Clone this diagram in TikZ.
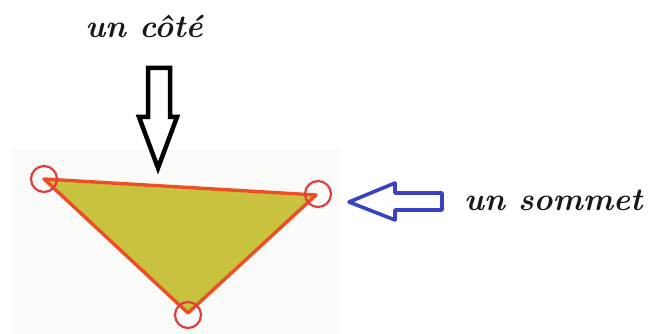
\documentclass[tikz,border=0pt]{standalone}
\usepackage{fontspec}
\definecolor{trifill}{RGB}{200,194,62}
\definecolor{triedge}{RGB}{238,78,36}
\definecolor{vtxred}{RGB}{224,62,62}
\definecolor{arrblue}{RGB}{58,66,196}
\definecolor{panel}{RGB}{250,250,248}
\tikzset{
  label/.style={font=\fontsize{32}{32}\selectfont\bfseries\itshape, inner sep=0pt, text=black!90},
  vertexring/.style={circle, draw=vtxred, line width=2.2pt, minimum size=26pt, inner sep=0pt},
  triside/.style={draw=triedge, line width=3.4pt, line join=round, fill=trifill},
  blackarrow/.style={draw=black, line width=4.5pt, line join=miter, fill=white},
  bluearrow/.style={draw=arrblue, line width=3.6pt, line join=round, fill=white}
}
\begin{document}
\begin{tikzpicture}[x=1pt,y=-1pt]
\useasboundingbox (0,0) rectangle (650,334);
\fill[panel] (12,150) rectangle (340,334);
% vertices
\coordinate (A) at (44,179);
\coordinate (B) at (316,195);
\coordinate (C) at (188,313);
\path[triside] (A) -- (B) -- (C) -- cycle;
\node[vertexring] (ringA) at (A) {};
\node[vertexring] (ringB) at (318,194) {};
\node[vertexring] (ringC) at (188,315) {};
% labels
\node[label, anchor=base] (cote) at (144,38) {un côté};
\node[label, anchor=base west] (sommet) at (464,210) {un sommet};
% black arrow (down)
\draw[blackarrow] (148,68) -- (170,68) -- (170,117) -- (177,117) -- (158,168) -- (139,117) -- (148,117) -- cycle;
% blue arrow (left)
\draw[bluearrow] (442,193) -- (395,193) -- (395,183) -- (349,202) -- (395,220) -- (395,210) -- (442,210) -- cycle;
\end{tikzpicture}
\end{document}
